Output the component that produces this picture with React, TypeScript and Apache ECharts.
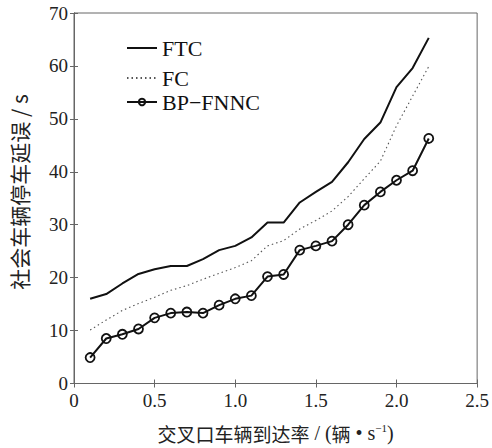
import React, { useEffect, useRef } from "react";
import * as echarts from "echarts";

const xValues = [0.1, 0.2, 0.3, 0.4, 0.5, 0.6, 0.7, 0.8, 0.9, 1.0, 1.1, 1.2, 1.3, 1.4, 1.5, 1.6, 1.7, 1.8, 1.9, 2.0, 2.1, 2.2];
const ftc = [16.0, 16.9, 18.9, 20.7, 21.6, 22.2, 22.2, 23.5, 25.2, 26.0, 27.6, 30.4, 30.4, 34.2, 36.2, 38.1, 41.8, 46.2, 49.3, 56.0, 59.6, 65.3];
const fc = [10.1, 12.0, 13.8, 15.1, 16.3, 17.6, 18.5, 19.7, 20.8, 21.9, 23.2, 26.0, 27.0, 29.2, 30.8, 32.6, 35.3, 38.7, 42.0, 48.7, 54.3, 59.9];
const bpfnnc = [4.9, 8.5, 9.3, 10.3, 12.4, 13.3, 13.5, 13.3, 14.8, 16.0, 16.6, 20.2, 20.6, 25.2, 26.0, 26.9, 30.0, 33.7, 36.2, 38.4, 40.2, 46.3];
const xTickLabels = ["0", "0.5", "1.0", "1.5", "2.0", "2.5"];

const serif = '"Liberation Serif", "Times New Roman", serif';
const cjk = '"Noto Sans CJK SC", sans-serif';

export default function App() {
  const ref = useRef<HTMLDivElement>(null);
  useEffect(() => {
    if (!ref.current) return;
    const chart = echarts.init(ref.current, undefined, { renderer: "svg" });
    const pair = (ys: number[]) => xValues.map((x, i) => [x, ys[i]]);
    const axisColor = "#666";
    const legendBase = {
      orient: "vertical" as const,
      left: 121,
      itemWidth: 30,
      itemHeight: 8,
      itemGap: 0,
      textStyle: { fontFamily: serif, fontSize: 22, color: "#111" },
      selectedMode: false,
    };
    chart.setOption({
      animation: false,
      backgroundColor: "#fff",
      grid: { left: 74, right: 8, top: 13, bottom: 61, show: true, borderColor: axisColor, borderWidth: 1 },
      legend: [
        { ...legendBase, top: 32, data: ["FTC"], itemStyle: { opacity: 0 } },
        { ...legendBase, top: 62, data: ["FC"], itemStyle: { opacity: 0 } },
        { ...legendBase, top: 86, data: ["BP−FNNC"] },
      ],
      xAxis: [
        {
          type: "value",
          min: 0,
          max: 2.5,
          interval: 0.5,
          position: "bottom",
          axisLine: { show: true, lineStyle: { color: axisColor } },
          axisTick: { show: true, inside: true, length: 4, lineStyle: { color: axisColor } },
          splitLine: { show: false },
          axisLabel: {
            fontFamily: serif,
            fontSize: 19,
            color: "#222",
            margin: 7,
            formatter: (v: number) => xTickLabels[Math.round(v / 0.5)],
          },
          name: "{a|交叉口车辆到达率}{b| / (}{a|辆}{b| • s}{sup|−1}{b|)}",
          nameLocation: "middle",
          nameGap: 39,
          nameTextStyle: {
            rich: {
              a: { fontFamily: cjk, fontSize: 19, color: "#222" },
              b: { fontFamily: serif, fontSize: 20, color: "#222" },
              sup: { fontFamily: serif, fontSize: 11, color: "#222", verticalAlign: "top", padding: [0, 0, 10, 0] },
            },
          },
        },
        {
          type: "value",
          min: 0,
          max: 2.5,
          interval: 0.5,
          position: "top",
          axisLine: { show: true, lineStyle: { color: axisColor } },
          axisTick: { show: true, inside: true, length: 4, lineStyle: { color: axisColor } },
          axisLabel: { show: false },
          splitLine: { show: false },
        },
      ],
      yAxis: [
        {
          type: "value",
          min: 0,
          max: 70,
          interval: 10,
          position: "left",
          axisLine: { show: true, lineStyle: { color: axisColor } },
          axisTick: { show: true, inside: true, length: 4, lineStyle: { color: axisColor } },
          splitLine: { show: false },
          axisLabel: { fontFamily: serif, fontSize: 19, color: "#222", margin: 6 },
        },
        {
          type: "value",
          min: 0,
          max: 70,
          interval: 10,
          position: "right",
          axisLine: { show: true, lineStyle: { color: axisColor } },
          axisTick: { show: true, inside: true, length: 4, lineStyle: { color: axisColor } },
          axisLabel: { show: false },
          splitLine: { show: false },
        },
      ],
      graphic: [
        {
          type: "text",
          x: 19,
          y: 192,
          rotation: Math.PI / 2,
          style: {
            text: "社会车辆停车延误 / s",
            font: `21px ${cjk}`,
            fill: "#222",
            align: "center",
            verticalAlign: "middle",
          },
        },
      ],
      series: [
        {
          name: "FTC",
          type: "line",
          data: pair(ftc),
          symbol: "none",
          lineStyle: { color: "#111", width: 2 },
          itemStyle: { color: "#111" },
        },
        {
          name: "FC",
          type: "line",
          data: pair(fc),
          symbol: "none",
          lineStyle: { color: "#555", width: 1.1, type: [1.5, 3] },
          itemStyle: { color: "#555" },
        },
        {
          name: "BP−FNNC",
          type: "line",
          data: pair(bpfnnc),
          symbol: "circle",
          symbolSize: 9,
          lineStyle: { color: "#111", width: 2 },
          itemStyle: { color: "rgba(0,0,0,0)", borderColor: "#111", borderWidth: 1.8 },
        },
      ],
    });
    return () => chart.dispose();
  }, []);
  return <div ref={ref} style={{ width: 492, height: 448, position: "absolute", left: 0, top: 0 }} />;
}
